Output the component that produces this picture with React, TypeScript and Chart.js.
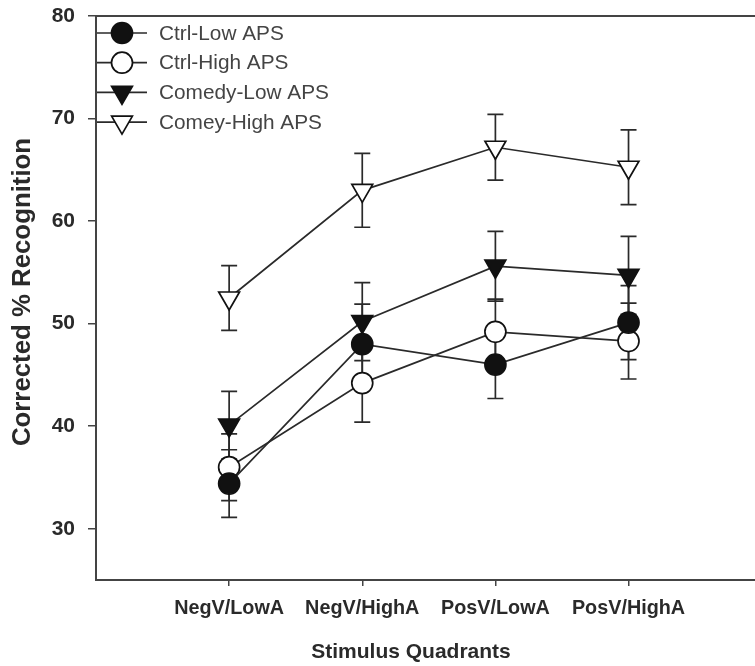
import React, { useEffect, useRef } from "react";
import { Chart, registerables } from "chart.js";
import { drawPoint } from "chart.js/helpers";

Chart.register(...registerables);

const categories = ["NegV/LowA", "NegV/HighA", "PosV/LowA", "PosV/HighA"];
const xPositions = [1, 2, 3, 4];
const yTickValues = [30, 40, 50, 60, 70, 80];

const seriesNames = ["Ctrl-Low APS", "Ctrl-High APS", "Comedy-Low APS", "Comey-High APS"];
const ctrlLow = [34.4, 48.0, 46.0, 50.1];
const ctrlLowErr = [3.3, 3.9, 3.3, 3.6];
const ctrlHigh = [36.0, 44.2, 49.2, 48.3];
const ctrlHighErr = [3.25, 3.8, 3.2, 3.7];
const comedyLow = [40.1, 50.2, 55.6, 54.7];
const comedyLowErr = [3.3, 3.8, 3.4, 3.8];
const comeyHigh = [52.5, 63.0, 67.2, 65.25];
const comeyHighErr = [3.15, 3.6, 3.2, 3.65];

const FONT = '"Liberation Sans", Arial, sans-serif';
const INK = "#2a2a2a";

const seriesStyles = [
  { pointStyle: "circle", rotation: 0, radius: 10.5, fill: "#111" },
  { pointStyle: "circle", rotation: 0, radius: 10.5, fill: "#fff" },
  { pointStyle: "triangle", rotation: 180, radius: 12, fill: "#111" },
  { pointStyle: "triangle", rotation: 180, radius: 12, fill: "#fff" },
];

const seriesValues = [ctrlLow, ctrlHigh, comedyLow, comeyHigh];
const seriesErrors = [ctrlLowErr, ctrlHighErr, comedyLowErr, comeyHighErr];

const errorBarPlugin = {
  id: "errorBars",
  beforeDatasetsDraw(chart: any) {
    const { ctx } = chart;
    const xs = chart.scales.x;
    const ys = chart.scales.y;
    ctx.save();
    ctx.strokeStyle = INK;
    ctx.lineWidth = 1.7;
    seriesValues.forEach((vals, si) => {
      vals.forEach((v, i) => {
        const e = seriesErrors[si][i];
        const x = xs.getPixelForValue(xPositions[i]);
        const yTop = ys.getPixelForValue(v + e);
        const yBot = ys.getPixelForValue(v - e);
        ctx.beginPath();
        ctx.moveTo(x, yTop);
        ctx.lineTo(x, yBot);
        ctx.moveTo(x - 8, yTop);
        ctx.lineTo(x + 8, yTop);
        ctx.moveTo(x - 8, yBot);
        ctx.lineTo(x + 8, yBot);
        ctx.stroke();
      });
    });
    ctx.restore();
  },
};

const decorPlugin = {
  id: "decor",
  afterDraw(chart: any) {
    const { ctx, chartArea } = chart;
    ctx.save();
    // top frame line
    ctx.strokeStyle = "#444";
    ctx.lineWidth = 2;
    ctx.beginPath();
    ctx.moveTo(chartArea.left, chartArea.top);
    ctx.lineTo(chartArea.right, chartArea.top);
    ctx.stroke();

    // legend
    seriesNames.forEach((name, i) => {
      const y = chartArea.top + 17 + i * 29.7;
      const x0 = chartArea.left + 1;
      ctx.strokeStyle = INK;
      ctx.lineWidth = 1.7;
      ctx.beginPath();
      ctx.moveTo(x0, y);
      ctx.lineTo(x0 + 50, y);
      ctx.stroke();
      const st = seriesStyles[i];
      ctx.fillStyle = st.fill;
      ctx.strokeStyle = "#111";
      ctx.lineWidth = 1.7;
      drawPoint(ctx, { pointStyle: st.pointStyle, rotation: st.rotation, radius: st.radius, borderWidth: 1.7 }, x0 + 25, y);
      ctx.fillStyle = "#444";
      ctx.font = `20.8px ${FONT}`;
      ctx.textAlign = "left";
      ctx.textBaseline = "middle";
      ctx.fillText(name, x0 + 62, y + 1);
    });

    // axis titles
    ctx.fillStyle = INK;
    ctx.font = `bold 21px ${FONT}`;
    ctx.textAlign = "center";
    ctx.textBaseline = "alphabetic";
    ctx.fillText("Stimulus Quadrants", 411, 658);

    ctx.translate(30, 292);
    ctx.rotate(-Math.PI / 2);
    ctx.font = `bold 25.8px ${FONT}`;
    ctx.fillText("Corrected % Recognition", 0, 0);
    ctx.restore();
  },
};

export default function App() {
  const ref = useRef<HTMLCanvasElement | null>(null);
  useEffect(() => {
    if (!ref.current) return;
    const datasets = seriesValues.map((vals, si) => ({
      label: seriesNames[si],
      data: vals.map((v, i) => ({ x: xPositions[i], y: v })),
      borderColor: INK,
      borderWidth: 1.7,
      pointStyle: seriesStyles[si].pointStyle,
      pointRotation: seriesStyles[si].rotation,
      pointRadius: seriesStyles[si].radius,
      pointHoverRadius: seriesStyles[si].radius,
      pointBackgroundColor: seriesStyles[si].fill,
      pointBorderColor: "#111",
      pointBorderWidth: 1.7,
      fill: false,
      tension: 0,
    }));
    const chart = new Chart(ref.current, {
      type: "line",
      data: { datasets },
      options: {
        animation: false,
        responsive: true,
        maintainAspectRatio: false,
        layout: { autoPadding: false, padding: { top: 16, right: 0, left: 0, bottom: 0 } },
        plugins: { legend: { display: false }, tooltip: { enabled: false } },
        scales: {
          x: {
            type: "linear",
            min: 0,
            max: 4.95,
            afterBuildTicks: (s: any) => {
              s.ticks = xPositions.map((v) => ({ value: v }));
            },
            afterFit: (s: any) => {
              s.height = 86;
              s.paddingLeft = 0;
              s.paddingRight = 0;
            },
            ticks: {
              callback: (v: any) => categories[Number(v) - 1] ?? "",
              font: { family: FONT, size: 19.8, weight: "bold" },
              color: INK,
              padding: 11,
              maxRotation: 0,
              autoSkip: false,
            },
            grid: { drawOnChartArea: false, drawTicks: true, tickLength: 6, color: "#444", lineWidth: 1.5 },
            border: { display: true, color: "#444", width: 2 },
          },
          y: {
            min: 25,
            max: 80,
            afterBuildTicks: (s: any) => {
              s.ticks = yTickValues.map((v) => ({ value: v }));
            },
            afterFit: (s: any) => {
              s.width = 96;
              s.paddingTop = 0;
              s.paddingBottom = 0;
            },
            ticks: {
              font: { family: FONT, size: 21, weight: "bold" },
              color: INK,
              padding: 13,
            },
            grid: { drawOnChartArea: false, drawTicks: true, tickLength: 8, color: "#444", lineWidth: 1.5 },
            border: { display: true, color: "#444", width: 2 },
          },
        },
      },
      plugins: [errorBarPlugin, decorPlugin],
    });
    return () => chart.destroy();
  }, []);
  return (
    <div style={{ position: "fixed", left: 0, top: 0, width: 755, height: 666, background: "#fff" }}>
      <canvas ref={ref} />
    </div>
  );
}
